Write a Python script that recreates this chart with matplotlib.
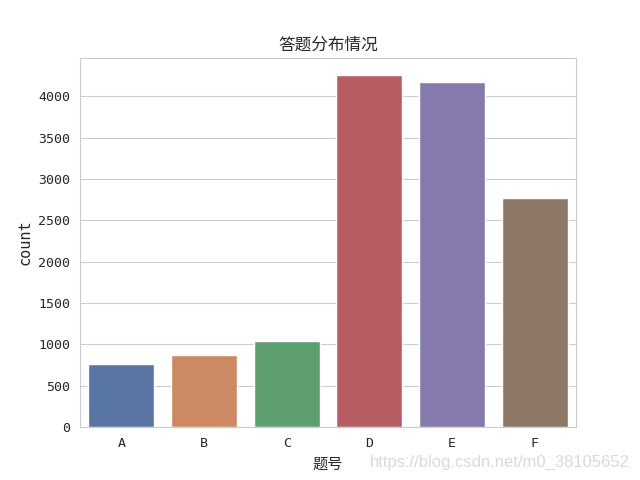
import matplotlib
matplotlib.use("Agg")
import matplotlib.pyplot as plt
import seaborn as sns

categories = ["A", "B", "C", "D", "E", "F"]
counts = [767, 872, 1039, 4255, 4178, 2772]

sns.set_style("whitegrid")
plt.rcParams['font.family'] = ['Noto Sans CJK SC', 'DejaVu Sans']
plt.rcParams['axes.unicode_minus'] = False

fig, ax = plt.subplots(figsize=(6.4, 4.8), dpi=100)
palette = sns.color_palette("deep", len(categories))
sns.barplot(x=categories, y=counts, hue=categories, palette=palette, legend=False, ax=ax)
ax.set_title("答题分布情况", fontsize=12)
ax.set_xlabel("题号", fontsize=11)
ax.set_ylabel("count", fontsize=11, family=['DejaVu Sans Mono'])
for lab in ax.get_xticklabels() + ax.get_yticklabels():
    lab.set_family('DejaVu Sans Mono')
    lab.set_fontsize(9.5)
fig.text(0.984, 0.0375, "https://blog.csdn.net/m0_38105652", ha="right", va="center",
         color="#d9d9d9", fontsize=12, family=['Liberation Sans'])
fig.savefig("out.png", dpi=100)
